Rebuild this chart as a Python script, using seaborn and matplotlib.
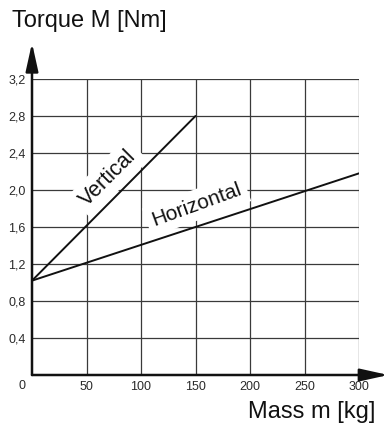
import matplotlib
matplotlib.use("Agg")
import matplotlib.pyplot as plt
import seaborn as sns
import pandas as pd

# ---- data ----
mass_vertical = [0, 150]
torque_vertical = [1.02, 2.80]
mass_horizontal = [0, 300]
torque_horizontal = [1.02, 2.18]

x_ticks = [50, 100, 150, 200, 250, 300]
x_tick_labels = ["50", "100", "150", "200", "250", "300"]
y_ticks = [0.4, 0.8, 1.2, 1.6, 2.0, 2.4, 2.8, 3.2]
y_tick_labels = ["0,4", "0,8", "1,2", "1,6", "2,0", "2,4", "2,8", "3,2"]

title_text = "Torque M [Nm]"
xlabel_text = "Mass m [kg]"

sns.set_style("white")
plt.rcParams["font.family"] = ["Liberation Sans", "DejaVu Sans"]

fig = plt.figure(figsize=(3.88, 4.25), dpi=100)
ax = fig.add_axes([32 / 388, 50 / 425, 327 / 388, 296 / 425])

df_v = pd.DataFrame({"mass": mass_vertical, "torque": torque_vertical})
df_h = pd.DataFrame({"mass": mass_horizontal, "torque": torque_horizontal})
sns.lineplot(data=df_v, x="mass", y="torque", ax=ax, color="#111111", lw=1.4, zorder=4)
sns.lineplot(data=df_h, x="mass", y="torque", ax=ax, color="#111111", lw=1.4, zorder=4)

ax.set_xlim(0, 300)
ax.set_ylim(0, 3.2)
ax.set_xticks(x_ticks)
ax.set_xticklabels(x_tick_labels)
ax.set_yticks(y_ticks)
ax.set_yticklabels(y_tick_labels)
ax.tick_params(length=0, labelsize=9, colors="#2a2a2a")
ax.tick_params(axis="x", pad=4.5)
ax.tick_params(axis="y", pad=4.5)
ax.set_xlabel("")
ax.set_ylabel("")
ax.grid(True, color="#3a3a3a", lw=0.9)
ax.set_axisbelow(True)
for s in ax.spines.values():
    s.set_visible(False)

# axes with arrows
arrow_kw = dict(arrowstyle="-|>,head_length=0.95,head_width=0.21", color="#111111",
                lw=1.8, shrinkA=0, shrinkB=0, mutation_scale=18)
ax.annotate("", xy=(0, 1.122), xytext=(0, 0), xycoords="axes fraction",
            textcoords="axes fraction", arrowprops=arrow_kw, annotation_clip=False, zorder=5)
ax.annotate("", xy=(1.09, 0), xytext=(0, 0), xycoords="axes fraction",
            textcoords="axes fraction", arrowprops=arrow_kw, annotation_clip=False, zorder=5)

ax.annotate("0", xy=(0, 0), xytext=(-7.2, -8), textcoords="offset points",
            ha="center", va="center", fontsize=9, color="#2a2a2a", annotation_clip=False)

# line labels
ax.text(70, 2.13, "Vertical", rotation=45, rotation_mode="anchor", ha="center",
        va="center", fontsize=15.5, color="#111111",
        bbox=dict(fc="white", ec="none", pad=4), zorder=2)
ax.text(151, 1.84, "Horizontal", rotation=20, rotation_mode="anchor", ha="center",
        va="center", fontsize=15, color="#111111",
        bbox=dict(fc="white", ec="none", pad=4), zorder=2)

fig.text(12 / 388, 1 - 27 / 425, title_text, ha="left", va="baseline", fontsize=17, color="#111111")
fig.text(375 / 388, 1 - 418 / 425, xlabel_text, ha="right", va="baseline", fontsize=17, color="#111111")

fig.savefig("out.png", dpi=100, facecolor="white")
